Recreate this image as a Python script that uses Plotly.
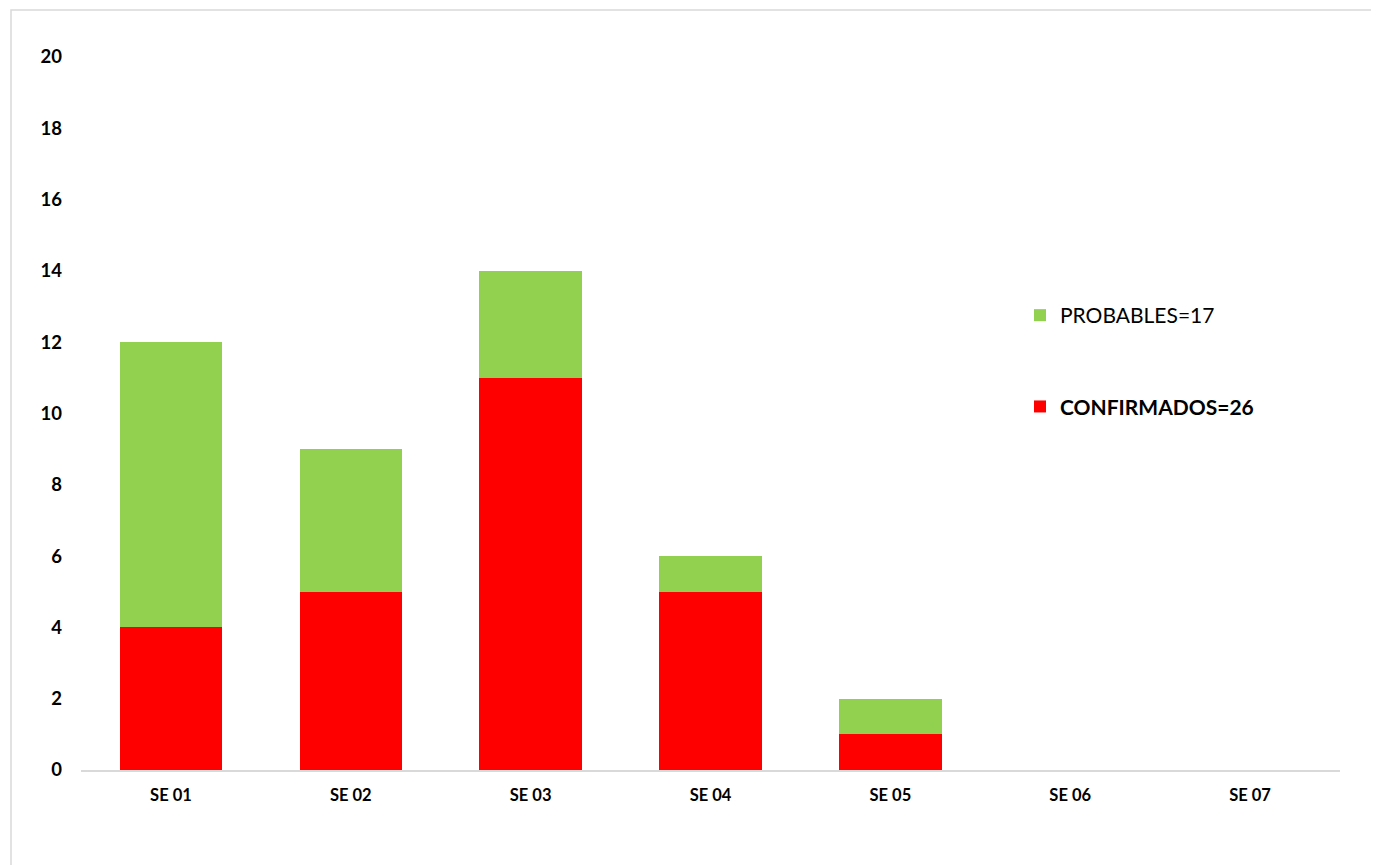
import plotly.graph_objects as go

categories = ["SE 01", "SE 02", "SE 03", "SE 04", "SE 05", "SE 06", "SE 07"]
confirmados = [4, 5, 11, 5, 1, 0, 0]
probables = [8, 4, 3, 1, 1, 0, 0]
y_ticks = [0, 2, 4, 6, 8, 10, 12, 14, 16, 18, 20]

FONT = "Lato"

fig = go.Figure()
fig.add_trace(go.Bar(
    x=categories, y=confirmados, name="<b>CONFIRMADOS=26</b>",
    marker=dict(color="#FF0000", line=dict(width=0)), legendgroup="c",
    legendrank=2,
))
fig.add_trace(go.Bar(
    x=categories, y=probables, name="PROBABLES=17",
    marker=dict(color="#92D050", line=dict(width=0)), legendgroup="p",
    legendrank=1,
))

# page body has an 8px margin, so figure coords = screen coords - 8
OFF = 8
W, H = 1379 - OFF, 865 - OFF
L, R, T, B = 81 - OFF, 39, 57 - OFF, 95
pw, ph = W - L - R, H - T - B

def px_x(x):
    return (x - OFF - L) / pw

def px_y(y):
    return (H - B - (y - OFF)) / ph

fig.update_layout(
    width=W, height=H,
    barmode="stack", bargap=0.43,
    plot_bgcolor="white", paper_bgcolor="white",
    margin=dict(l=L, r=R, t=T, b=B),
    font=dict(family=FONT, color="black"),
    xaxis=dict(
        showline=True, linecolor="#D9D9D9", linewidth=1.5,
        showgrid=False, ticks="", zeroline=False, ticklabelstandoff=9,
        tickfont=dict(size=16.5, family=FONT, color="black", weight="bold"),
    ),
    yaxis=dict(
        range=[0, 20], tickvals=y_ticks, showgrid=False, zeroline=False,
        showline=False, ticks="", ticklabelstandoff=18,
        tickfont=dict(size=18.5, family=FONT, color="black", weight="bold"),
    ),
    legend=dict(
        x=px_x(1020), y=px_y(295), xanchor="left", yanchor="top",
        traceorder="grouped", tracegroupgap=61,
        font=dict(size=21, family=FONT, color="black"),
        bgcolor="rgba(0,0,0,0)", itemwidth=30,
    ),
    shapes=[dict(
        type="rect", xref="paper", yref="paper",
        x0=px_x(11), x1=px_x(1395), y0=px_y(880), y1=px_y(10),
        line=dict(color="#D9D9D9", width=1.5), fillcolor="rgba(0,0,0,0)",
        layer="below",
    )],
)

fig.write_html("out.html")
